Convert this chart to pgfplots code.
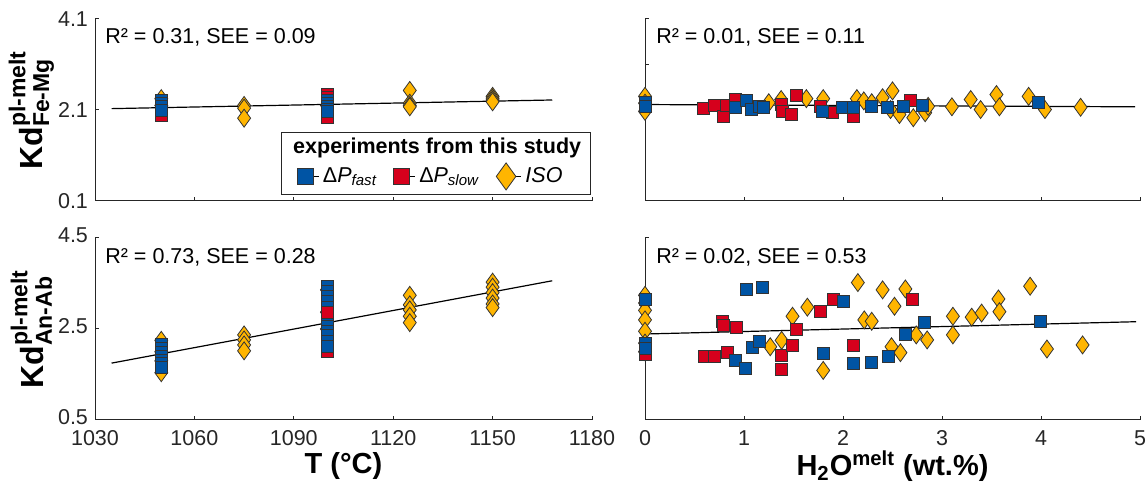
\documentclass[border=0pt]{standalone}
\usepackage{fontspec}
\setmainfont{Liberation Sans}
\usepackage{pgfplots}
\pgfplotsset{compat=1.18}

\definecolor{cfast}{RGB}{0,84,164}
\definecolor{cslow}{RGB}{214,0,28}
\definecolor{ciso}{RGB}{255,181,0}
\definecolor{axc}{RGB}{38,38,38}

\pgfdeclareplotmark{mdiam}{%
  \pgfpathmoveto{\pgfqpoint{0pt}{1.38\pgfplotmarksize}}%
  \pgfpathlineto{\pgfqpoint{\pgfplotmarksize}{0pt}}%
  \pgfpathlineto{\pgfqpoint{0pt}{-1.38\pgfplotmarksize}}%
  \pgfpathlineto{\pgfqpoint{-\pgfplotmarksize}{0pt}}%
  \pgfpathclose\pgfusepathqfillstroke}

\newcommand{\basefont}{\fontsize{10.75}{13}\selectfont}

\pgfplotsset{
  kdax/.style={
    scale only axis, axis lines=left, axis line style={-, draw=axc, line width=0.5pt},
    tick style={draw=axc, line width=0.5pt}, tick align=inside, major tick length=2.2pt,
    clip=false, enlargelimits=false,
    font=\basefont, tick label style={font=\basefont, text=axc},
    xticklabel style={yshift=-1.6pt},
    /pgf/number format/assume math mode=true,
    xlabel style={font=\fontsize{14.5}{17}\selectfont\bfseries, at={(axis description cs:0.5,-0.255)}, anchor=center},
    ylabel style={font=\fontsize{16}{18}\selectfont, at={(axis description cs:-0.128,0.5)}, anchor=center},
  },
  fastst/.style={only marks, mark=square*, mark size=3pt, mark options={fill=cfast, draw=black!80, line width=0.4pt}},
  slowst/.style={only marks, mark=square*, mark size=3pt, mark options={fill=cslow, draw=black!80, line width=0.4pt}},
  isost/.style={only marks, mark=mdiam, mark size=3.25pt, mark options={fill=ciso, draw=black!80, line width=0.4pt}},
  fitst/.style={black, line width=0.6pt, mark=none},
}

\begin{document}
\begin{tikzpicture}
\useasboundingbox (0,0) rectangle (573pt,243pt);

% ---------------- top left ----------------
\begin{axis}[kdax, at={(47.5pt,142.5pt)}, anchor=south west, width=248.5pt, height=91pt,
  xmin=1030, xmax=1180, ymin=0.1, ymax=4.1,
  xtick={1030,1060,1090,1120,1150,1180}, xticklabels={},
  ytick={0.1,2.1,4.1}, yticklabels={0.1,2.1,4.1},
  ylabel={\textbf{Kd}$^{\mbox{\fontsize{11.5}{12}\selectfont\bfseries pl-melt}}_{\mbox{\fontsize{11.5}{12}\selectfont\bfseries Fe-Mg}}$},
  legend style={draw=none, fill=none, at={(rel axis cs:0.406,0.135)}, anchor=west, inner sep=0pt,
    font=\basefont, legend columns=3, /tikz/every even column/.append style={column sep=6pt}},
  ]
\addplot[isost, forget plot] coordinates {(1050,2.35) (1050,2.2) (1075,2.20) (1075,2.14) (1075,1.92) (1100,2.2)
  (1125,2.53) (1125,2.25) (1125,2.20) (1125,2.17) (1150,2.40) (1150,2.36) (1150,2.32) (1150,2.28)};
\addplot[slowst, forget plot] coordinates {(1050,2.05) (1050,1.99) (1100,2.45) (1100,2.38) (1100,2.00) (1100,1.93)};
\addplot[fastst, forget plot] coordinates {(1050,2.30) (1050,2.24) (1050,2.17) (1050,2.10)
  (1100,2.32) (1100,2.25) (1100,2.18) (1100,2.12) (1100,2.07)};
\addplot[fitst, forget plot] coordinates {(1035,2.13) (1168,2.32)};
\node[anchor=west, inner sep=0pt, font=\basefont] at (rel axis cs:0.02,0.9) {R² = 0.31, SEE = 0.09};
\draw[draw=axc, line width=0.5pt, fill=white] (rel axis cs:0.376,0.033) rectangle (rel axis cs:0.996,0.376);
\node[anchor=west, inner sep=0pt, font=\basefont\bfseries] at (rel axis cs:0.398,0.293) {experiments from this study};
\addlegendimage{legend image code/.code={\path (0pt,0pt) -- (10.5pt,0pt);\draw[only marks, mark=square*, mark size=4pt, mark options={fill=cfast, draw=black!80, line width=0.4pt}] plot coordinates {(4pt,0pt)};}}
\addlegendentry{Δ\textit{P}\textsubscript{\textit{fast}}}
\addlegendimage{legend image code/.code={\path (0pt,0pt) -- (10.5pt,0pt);\draw[only marks, mark=square*, mark size=4pt, mark options={fill=cslow, draw=black!80, line width=0.4pt}] plot coordinates {(4pt,0pt)};}}
\addlegendentry{Δ\textit{P}\textsubscript{\textit{slow}}}
\addlegendimage{legend image code/.code={\path (0pt,0pt) -- (12.4pt,0pt);\draw[only marks, mark=mdiam, mark size=4.9pt, mark options={fill=ciso, draw=black!80, line width=0.4pt}] plot coordinates {(4.9pt,0pt)};}}
\addlegendentry{\textit{ISO}}
\end{axis}

% ---------------- top right ----------------
\begin{axis}[kdax, at={(322.5pt,142.5pt)}, anchor=south west, width=247.5pt, height=91pt,
  xmin=0, xmax=5, ymin=0.1, ymax=4.1,
  xtick={0,1,2,3,4,5}, xticklabels={},
  ytick={0.1,2.1,3.1,4.1}, yticklabels={},
  ]
\addplot[isost] coordinates {(0,2.40) (0,2.07) (0,2.25) (1.25,2.26) (1.375,2.33) (1.63,2.35) (1.80,2.35) (2.14,2.35)
  (2.21,2.30) (2.29,2.26) (2.40,2.37) (2.50,2.52) (2.48,2.11) (2.57,2.00) (2.71,1.93) (2.83,2.04) (2.86,2.18)
  (3.10,2.17) (3.29,2.33) (3.39,2.11) (3.55,2.44) (3.58,2.17) (3.875,2.40) (4.04,2.11) (4.40,2.16)};
\addplot[slowst] coordinates {(0.59,2.13) (0.70,2.20) (0.79,1.96) (0.82,2.20) (0.91,2.33) (1.375,2.22) (1.39,2.07)
  (1.48,2.00) (1.525,2.41) (1.77,2.17) (1.89,2.04) (2.11,1.96) (2.68,2.30)};
\addplot[fastst] coordinates {(0,2.26) (0,2.17) (0.91,2.15) (1.02,2.30) (1.07,2.11) (1.16,2.18) (1.20,2.15) (1.79,2.07)
  (1.99,2.15) (2.10,2.15) (2.29,2.17) (2.45,2.15) (2.61,2.18) (2.80,2.20) (3.975,2.26)};
\addplot[fitst] coordinates {(0,2.22) (4.95,2.17)};
\node[anchor=west, inner sep=0pt, font=\basefont] at (rel axis cs:0.022,0.9) {R² = 0.01, SEE = 0.11};
\end{axis}

% ---------------- bottom left ----------------
\begin{axis}[kdax, at={(47.5pt,33pt)}, anchor=south west, width=248.5pt, height=91pt,
  xmin=1030, xmax=1180, ymin=0.5, ymax=4.5,
  xtick={1030,1060,1090,1120,1150,1180}, xticklabels={1030,1060,1090,1120,1150,1180},
  ytick={0.5,2.5,4.5}, yticklabels={0.5,2.5,4.5},
  yticklabel style={yshift=1.2pt},
  xlabel={T (°C)},
  ylabel={\textbf{Kd}$^{\mbox{\fontsize{11.5}{12}\selectfont\bfseries pl-melt}}_{\mbox{\fontsize{11.5}{12}\selectfont\bfseries An-Ab}}$},
  ]
\addplot[isost] coordinates {(1050,2.25) (1050,1.54) (1050,2.0) (1050,1.8) (1075,2.37) (1075,2.26) (1075,2.15) (1075,2.02)
  (1100,3.36) (1100,2.87) (1100,2.5) (1125,3.24) (1125,3.03) (1125,2.92) (1125,2.78) (1125,2.64)
  (1150,3.53) (1150,3.42) (1150,3.30) (1150,3.18) (1150,3.05) (1150,2.97)};
\addplot[slowst] coordinates {(1100,2.87) (1100,2.00)};
\addplot[fastst] coordinates {(1050,2.17) (1050,2.08) (1050,1.98) (1050,1.90) (1050,1.82) (1050,1.74) (1050,1.66)
  (1100,3.43) (1100,3.33) (1100,3.22) (1100,3.10) (1100,2.98) (1100,2.75) (1100,2.65) (1100,2.55) (1100,2.45)
  (1100,2.35) (1100,2.22) (1100,2.12)};
\addplot[slowst] coordinates {(1100,2.87)};
\addplot[fitst] coordinates {(1035,1.75) (1168,3.56)};
\node[anchor=west, inner sep=0pt, font=\basefont] at (rel axis cs:0.02,0.896) {R² = 0.73, SEE = 0.28};
\end{axis}

% ---------------- bottom right ----------------
\begin{axis}[kdax, at={(322.5pt,33pt)}, anchor=south west, width=247.5pt, height=91pt,
  xmin=0, xmax=5, ymin=0.5, ymax=4.5,
  xtick={0,1,2,3,4,5}, xticklabels={0,1,2,3,4,5},
  ytick={0.5,2.5,4.5}, yticklabels={},
  xlabel={H\textsubscript{2}O\textsuperscript{melt} (wt.\%)},
  ]
\addplot[isost] coordinates {(0,3.24) (0,3.07) (0,2.91) (0,2.70) (0,2.45) (0,2.19) (0,2.00) (1.265,2.11) (1.38,2.25)
  (1.49,2.78) (1.64,2.98) (1.80,1.59) (2.15,3.52) (2.215,2.70) (2.29,2.67) (2.40,3.36) (2.49,2.11) (2.52,3.00)
  (2.58,1.98) (2.63,3.38) (2.74,2.37) (2.85,2.26) (3.11,2.78) (3.11,2.37) (3.30,2.76) (3.40,2.85) (3.57,3.16)
  (3.58,2.88) (3.89,3.44) (4.06,2.06) (4.42,2.15)};
\addplot[slowst] coordinates {(0,1.98) (0,1.94) (0.60,1.89) (0.70,1.89) (0.78,2.67) (0.79,2.57) (0.835,1.98) (0.92,2.54)
  (1.38,1.93) (1.38,1.62) (1.49,2.13) (1.53,2.50) (1.77,2.88) (1.90,3.14) (2.11,2.13) (2.70,3.14)};
\addplot[fastst] coordinates {(0,3.14) (0,2.19) (0,2.08) (0.91,1.81) (1.01,1.64) (1.02,3.36) (1.08,2.10) (1.16,2.22)
  (1.19,3.42) (1.80,1.97) (2.00,3.11) (2.10,1.75) (2.29,1.76) (2.455,1.89) (2.63,2.39) (2.82,2.64) (3.99,2.66)};
\addplot[fitst] coordinates {(0,2.39) (4.96,2.66)};
\node[anchor=west, inner sep=0pt, font=\basefont] at (rel axis cs:0.022,0.896) {R² = 0.02, SEE = 0.53};
\end{axis}
\end{tikzpicture}
\end{document}
